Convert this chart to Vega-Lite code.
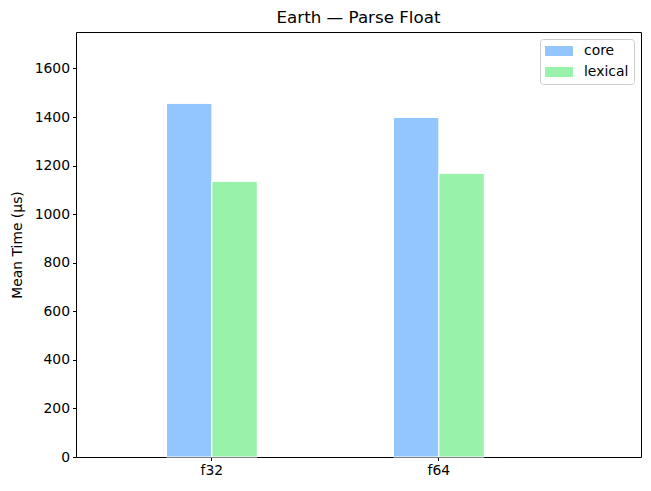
{
  "$schema": "https://vega.github.io/schema/vega-lite/v6.json",
  "width": 565,
  "height": 425,
  "autosize": {"type": "none"},
  "padding": {"left": 76, "top": 32, "right": 10, "bottom": 34},
  "background": "white",
  "title": {"text": "Earth — Parse Float", "font": "DejaVu Sans", "fontSize": 16.7, "fontWeight": "normal", "color": "black", "anchor": "middle", "offset": 5, "frame": "group"},
  "data": {"values": [
    {"type": "f32", "lib": "core", "time": 1456},
    {"type": "f32", "lib": "lexical", "time": 1135},
    {"type": "f64", "lib": "core", "time": 1398},
    {"type": "f64", "lib": "lexical", "time": 1168}
  ]},
  "mark": {"type": "bar", "stroke": "white", "strokeWidth": 1},
  "encoding": {
    "x": {"field": "type", "type": "nominal", "title": null,
      "scale": {"paddingInner": 0.6, "paddingOuter": 0.5445, "align": 0.366},
      "axis": {"labelAngle": 0, "domain": false, "ticks": true, "tickColor": "black", "tickSize": 3.5, "labelFont": "DejaVu Sans", "labelFontSize": 13.9, "labelColor": "black", "labelPadding": 3, "grid": false}},
    "xOffset": {"field": "lib", "type": "nominal", "scale": {"paddingInner": 0, "paddingOuter": 0}},
    "y": {"field": "time", "type": "quantitative", "title": "Mean Time (µs)",
      "scale": {"domain": [0, 1750], "nice": false},
      "axis": {"values": [0, 200, 400, 600, 800, 1000, 1200, 1400, 1600], "format": "d", "grid": false, "domain": false, "tickColor": "black", "tickSize": 3.5, "labelFont": "DejaVu Sans", "labelFontSize": 13.9, "labelColor": "black", "labelPadding": 3, "titleFont": "DejaVu Sans", "titleFontSize": 13.9, "titleFontWeight": "normal", "titleColor": "black", "titlePadding": 10}},
    "color": {"field": "lib", "type": "nominal", "title": null,
      "scale": {"domain": ["core", "lexical"], "range": ["#93c6ff", "#98f2aa"]},
      "legend": {"orient": "top-right", "offset": 7, "symbolType": "M-2,-0.72L2,-0.72L2,0.72L-2,0.72Z", "symbolSize": 196, "symbolOffset": 7, "symbolStrokeWidth": 0, "labelFont": "DejaVu Sans", "labelFontSize": 13.9, "labelColor": "black", "strokeColor": "#cccccc", "fillColor": "white", "cornerRadius": 3, "padding": 5, "rowPadding": 7, "labelOffset": 18}}
  },
  "config": {"view": {"stroke": "black", "strokeWidth": 1}, "axis": {"tickWidth": 1}}
}
